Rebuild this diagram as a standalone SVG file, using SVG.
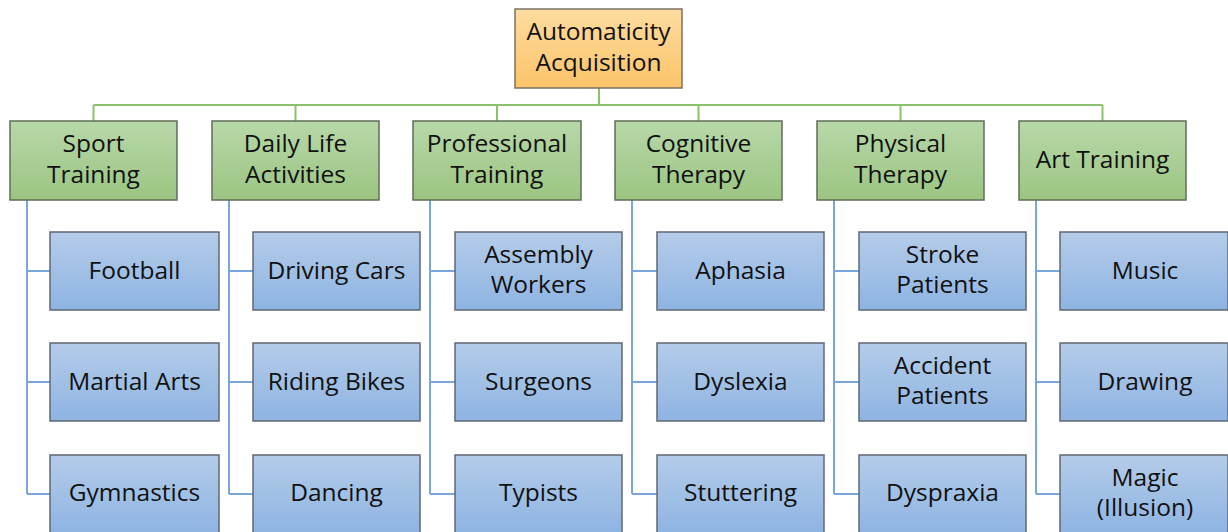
<svg xmlns="http://www.w3.org/2000/svg" width="1228" height="532" viewBox="0 0 1228 532">
<defs>
<linearGradient id="gO" x1="0" y1="0" x2="0" y2="1"><stop offset="0" stop-color="#fedca0"/><stop offset="1" stop-color="#fbc468"/></linearGradient>
<linearGradient id="gG" x1="0" y1="0" x2="0" y2="1"><stop offset="0" stop-color="#b8d8a9"/><stop offset="1" stop-color="#9bc581"/></linearGradient>
<linearGradient id="gB" x1="0" y1="0" x2="0" y2="1"><stop offset="0" stop-color="#b4cce9"/><stop offset="1" stop-color="#8eb4e2"/></linearGradient>
<style>
.o{fill:url(#gO);stroke:#7a7263;stroke-width:1.5}
.g{fill:url(#gG);stroke:#5f6e58;stroke-width:1.5}
.b{fill:url(#gB);stroke:#5f6874;stroke-width:1.5}
text{font-family:"Open Sans",Lato,"Liberation Sans",sans-serif;font-size:24.5px;font-weight:500;fill:#111111;text-anchor:middle}
.cg{stroke:#8cc26c;stroke-width:2;fill:none}
.cb{stroke:#79a7dd;stroke-width:2;fill:none}
</style>
</defs>
<rect width="1228" height="532" fill="#ffffff"/>
<g id="connectors">
<path class="cg" d="M599 88V105M93.5 105H1102.5M93.5 105V121M295.5 105V121M497 105V121M698.5 105V121M900.5 105V121M1102.5 105V121"/>
<path class="cb" d="M27 200V494M27 271H50M27 382H50M27 494H50"/>
<path class="cb" d="M229 200V494M229 271H253M229 382H253M229 494H253"/>
<path class="cb" d="M430 200V494M430 271H455M430 382H455M430 494H455"/>
<path class="cb" d="M632 200V494M632 271H657M632 382H657M632 494H657"/>
<path class="cb" d="M834 200V494M834 271H859M834 382H859M834 494H859"/>
<path class="cb" d="M1036 200V494M1036 271H1060M1036 382H1060M1036 494H1060"/>
</g>
<g id="root"><rect class="o" x="515" y="9" width="167" height="79"/><text x="598.5" y="40">Automaticity</text><text x="598.5" y="71">Acquisition</text></g>
<g id="sport"><rect class="g" x="10" y="121" width="167" height="79"/><text x="93.5" y="152">Sport</text><text x="93.5" y="183">Training</text></g>
<g id="daily"><rect class="g" x="212" y="121" width="167" height="79"/><text x="295.5" y="152">Daily Life</text><text x="295.5" y="183">Activities</text></g>
<g id="professional"><rect class="g" x="413" y="121" width="168" height="79"/><text x="497" y="152">Professional</text><text x="497" y="183">Training</text></g>
<g id="cognitive"><rect class="g" x="615" y="121" width="167" height="79"/><text x="698.5" y="152">Cognitive</text><text x="698.5" y="183">Therapy</text></g>
<g id="physical"><rect class="g" x="817" y="121" width="167" height="79"/><text x="900.5" y="152">Physical</text><text x="900.5" y="183">Therapy</text></g>
<g id="art"><rect class="g" x="1019" y="121" width="167" height="79"/><text x="1102.5" y="168">Art Training</text></g>
<g id="football"><rect class="b" x="50" y="232" width="169" height="78"/><text x="134.5" y="279">Football</text></g>
<g id="martial"><rect class="b" x="50" y="343" width="169" height="78"/><text x="134.5" y="390">Martial Arts</text></g>
<g id="gymnastics"><rect class="b" x="50" y="455" width="169" height="78"/><text x="134.5" y="501">Gymnastics</text></g>
<g id="driving"><rect class="b" x="253" y="232" width="167" height="78"/><text x="336.5" y="279">Driving Cars</text></g>
<g id="riding"><rect class="b" x="253" y="343" width="167" height="78"/><text x="336.5" y="390">Riding Bikes</text></g>
<g id="dancing"><rect class="b" x="253" y="455" width="167" height="78"/><text x="336.5" y="501">Dancing</text></g>
<g id="assembly"><rect class="b" x="455" y="232" width="167" height="78"/><text x="538.5" y="263">Assembly</text><text x="538.5" y="293">Workers</text></g>
<g id="surgeons"><rect class="b" x="455" y="343" width="167" height="78"/><text x="538.5" y="390">Surgeons</text></g>
<g id="typists"><rect class="b" x="455" y="455" width="167" height="78"/><text x="538.5" y="501">Typists</text></g>
<g id="aphasia"><rect class="b" x="657" y="232" width="167" height="78"/><text x="740.5" y="279">Aphasia</text></g>
<g id="dyslexia"><rect class="b" x="657" y="343" width="167" height="78"/><text x="740.5" y="390">Dyslexia</text></g>
<g id="stuttering"><rect class="b" x="657" y="455" width="167" height="78"/><text x="740.5" y="501">Stuttering</text></g>
<g id="stroke"><rect class="b" x="859" y="232" width="167" height="78"/><text x="942.5" y="263">Stroke</text><text x="942.5" y="293">Patients</text></g>
<g id="accident"><rect class="b" x="859" y="343" width="167" height="78"/><text x="942.5" y="374">Accident</text><text x="942.5" y="404">Patients</text></g>
<g id="dyspraxia"><rect class="b" x="859" y="455" width="167" height="78"/><text x="942.5" y="501">Dyspraxia</text></g>
<g id="music"><rect class="b" x="1060" y="232" width="168" height="78"/><text x="1145" y="279">Music</text></g>
<g id="drawing"><rect class="b" x="1060" y="343" width="168" height="78"/><text x="1145" y="390">Drawing</text></g>
<g id="magic"><rect class="b" x="1060" y="455" width="168" height="78"/><text x="1145" y="486">Magic</text><text x="1145" y="516">(Illusion)</text></g>
</svg>
